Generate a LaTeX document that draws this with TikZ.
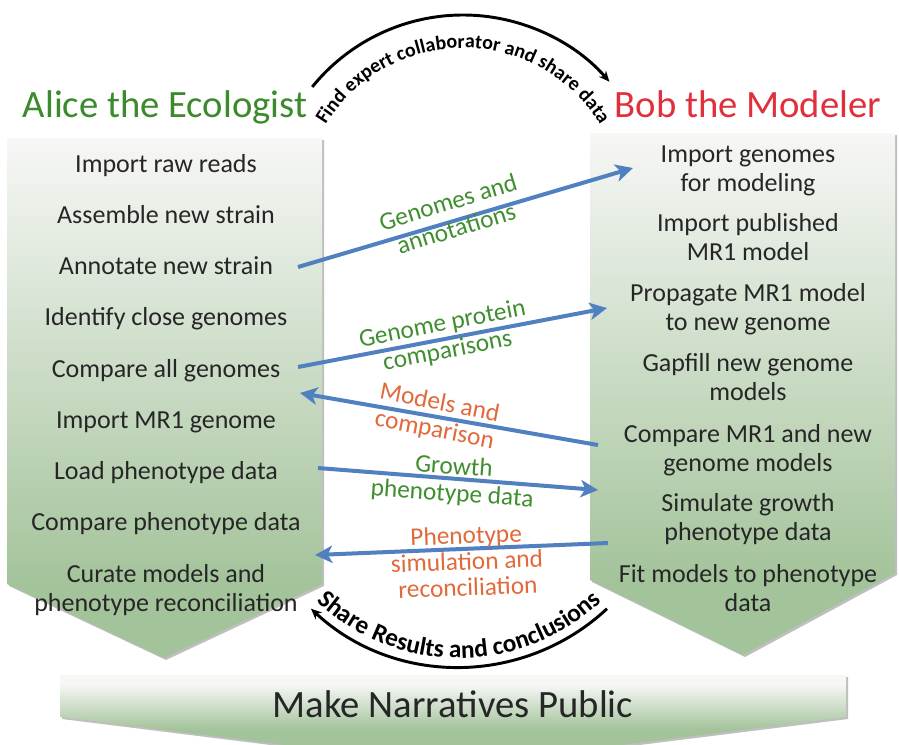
\documentclass[tikz,border=0pt]{standalone}
\usepackage{fontspec}
\setmainfont{Carlito}
\usetikzlibrary{arrows.meta,decorations.text,shadows}

\definecolor{alicegreen}{HTML}{3B8A2C}
\definecolor{bobred}{HTML}{E0303C}
\definecolor{itemtext}{HTML}{262626}
\definecolor{panelgreen}{HTML}{A3C39A}
\definecolor{paneltop}{HTML}{F7F7F6}
\definecolor{flowblue}{HTML}{5080C0}
\definecolor{labelgreen}{HTML}{3F8E30}
\definecolor{labelorange}{HTML}{E2693A}

% green at the bottom, fading to near white at the top
\pgfdeclareverticalshading{panelshade}{100bp}{color(0bp)=(panelgreen); color(32bp)=(panelgreen); color(75bp)=(paneltop); color(100bp)=(paneltop)}
\pgfdeclareverticalshading{bannershade}{100bp}{color(0bp)=(panelgreen); color(45bp)=(panelgreen); color(70bp)=(paneltop); color(100bp)=(paneltop)}

\newcommand{\dgtitlefont}{\fontsize{29}{34}\selectfont}
\newcommand{\dgitemfont}{\fontsize{19.5}{21.4}\selectfont}
\newcommand{\dglabelfont}{\fontsize{19}{20.5}\selectfont}
\newcommand{\dgarctopfont}{\fontsize{15}{18}\selectfont\bfseries}
\newcommand{\dgarcbotfont}{\fontsize{19}{22}\selectfont\bfseries}

\tikzset{
  panelshadow/.style={drop shadow={shadow xshift=1.5pt, shadow yshift=-1.5pt, fill=black, opacity=0.25}},
  heading/.style={font=\dgtitlefont, anchor=base, inner sep=0pt},
  % the base anchor of a two-line item sits on its last line
  item/.style={font=\dgitemfont, text=itemtext, align=center, anchor=base, inner sep=0pt},
  flowlabel/.style={font=\dglabelfont, align=center, inner sep=0pt},
  flow/.style={draw=flowblue, line width=3pt, -{Stealth[length=13pt, width=13pt, inset=3.5pt]}},
  arcline/.style={draw=black, line width=2.2pt, -{Stealth[length=8pt, width=7pt]}},
}

\begin{document}
\begin{tikzpicture}[x=0.75pt, y=-0.75pt]
\clip (0,0) rectangle (899,744);
\fill[white] (0,0) rectangle (899,744);

% the two workflow columns and the closing banner
\shade[shading=panelshade, panelshadow] (7,138) -- (322,138) -- (322,584) -- (164,658) -- (7,584) -- cycle;
\shade[shading=panelshade, panelshadow] (590,133) -- (895,133) -- (895,573) -- (743,655) -- (590,580) -- cycle;
\shade[shading=bannershade, panelshadow] (60,675) -- (846,675) -- (846,717) -- (453,766) -- (60,717) -- cycle;

% headings
\node[heading, text=alicegreen] (alice) at (165,117) {Alice the Ecologist};
\node[heading, text=bobred] (bob) at (748,117) {Bob the Modeler};
\node[heading, text=itemtext] (public) at (453,717) {Make Narratives Public};

% Alice's steps
\node[item] (a1) at (166,172) {Import raw reads};
\node[item] (a2) at (166,223) {Assemble new strain};
\node[item] (a3) at (166,274.5) {Annotate new strain};
\node[item] (a4) at (166,325.5) {Identify close genomes};
\node[item] (a5) at (166,377) {Compare all genomes};
\node[item] (a6) at (166,428) {Import MR1 genome};
\node[item] (a7) at (166,479) {Load phenotype data};
\node[item] (a8) at (166,530.5) {Compare phenotype data};
\node[item] (a9) at (166,611.5) {Curate models and\\phenotype reconciliation};

% Bob's steps
\node[item] (b1) at (748,191.5) {Import genomes\\for modeling};
\node[item] (b2) at (748,260) {Import published\\MR1 model};
\node[item] (b3) at (748,330) {Propagate MR1 model\\to new genome};
\node[item] (b4) at (748,400) {Gapfill new genome\\models};
\node[item] (b5) at (748,471) {Compare MR1 and new\\genome models};
\node[item] (b6) at (748,540) {Simulate growth\\phenotype data};
\node[item] (b7) at (748,611.5) {Fit models to phenotype\\data};

% arrow ends
\coordinate (f1s) at (298,267);  \coordinate (f1e) at (633,168);
\coordinate (f2s) at (298,367);  \coordinate (f2e) at (607,308);
\coordinate (f3s) at (598,445);  \coordinate (f3e) at (300,393);
\coordinate (f4s) at (318,468);  \coordinate (f4e) at (598,490);
\coordinate (f5s) at (608,543);  \coordinate (f5e) at (315,555);

\draw[flow] (f1s) -- (f1e);
\draw[flow] (f2s) -- (f2e);
\draw[flow] (f3s) -- (f3e);
\draw[flow] (f4s) -- (f4e);
\draw[flow] (f5s) -- (f5e);

% exchanged data
\node[flowlabel, text=labelgreen, rotate=17] (l1) at (452,215) {Genomes and\\annotations};
\node[flowlabel, text=labelgreen, rotate=11] (l2) at (445,338) {Genome protein\\comparisons};
\node[flowlabel, text=labelorange, rotate=-11] (l3) at (437,417) {Models and\\comparison};
\node[flowlabel, text=labelgreen, rotate=-4] (l4) at (453,481) {Growth\\phenotype data};
\node[flowlabel, text=labelorange, rotate=2, font=\fontsize{19}{19.5}\selectfont] (l5) at (467,561) {Phenotype\\simulation and\\reconciliation};

% collaboration arcs
\draw[arcline] ([shift={(-141:194)}]463,209) arc[start angle=-141, end angle=-41, radius=194];
\path[decorate, decoration={text along path, text align=center,
  text={|\dgarctopfont|Find expert collaborator and share data}}]
  ([shift={(-153:161)}]463,209) arc[start angle=-153, end angle=-27, radius=161];

\draw[arcline] ([shift={(47:217)}]459,450) arc[start angle=47, end angle=133, radius=217];
\path[decorate, decoration={text along path, text align=center,
  text={|\dgarcbotfont|Share Results and conclusions}}]
  ([shift={(137:208)}]459,450) arc[start angle=137, end angle=43, radius=208];
\end{tikzpicture}
\end{document}
